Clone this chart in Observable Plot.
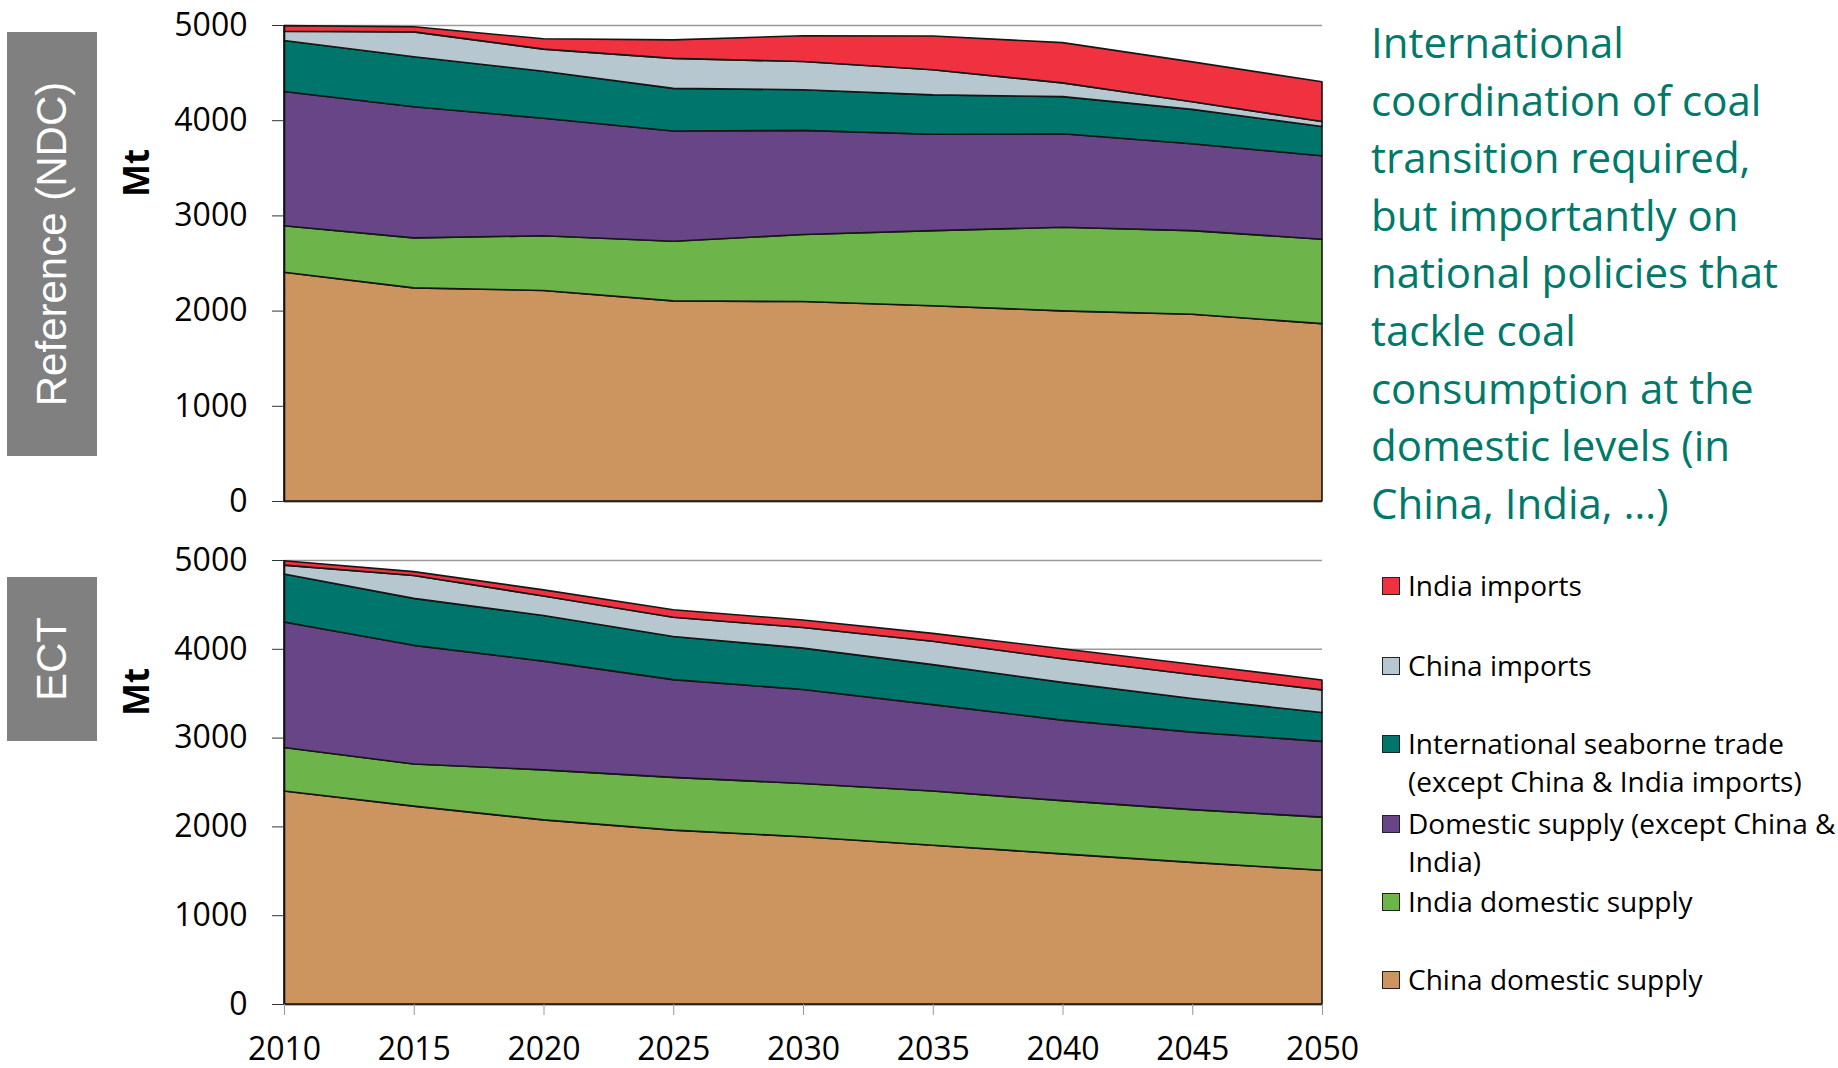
<!DOCTYPE html>
<html>
<head>
<meta charset="utf-8">
<script src="https://cdn.jsdelivr.net/npm/d3@7"></script>
<script src="https://cdn.jsdelivr.net/npm/@observablehq/plot@0.6"></script>
<style>
  html, body { margin: 0; padding: 0; background: #fff; }
  #root { position: relative; width: 1838px; height: 1068px; overflow: hidden; font-family: "Open Sans", sans-serif; }
  .panel { position: absolute; left: 0; }
  .sidebox { position: absolute; left: 7px; width: 90px; background: #808080; }
  .sidebox span { position: absolute; left: 50%; top: 50%; transform: translate(-50%, -50%) rotate(-90deg); white-space: nowrap; color: #fff; font-family: "Liberation Sans", Arial, sans-serif; font-size: 42px; }
  .mt { position: absolute; transform: translate(-50%, -50%) rotate(-90deg); font-weight: bold; font-size: 35px; font-family: "Open Sans", sans-serif; color: #000; }
  #note { position: absolute; left: 1371px; top: 13px; font-size: 42px; line-height: 57.6px; color: #00796b; font-family: "Open Sans", sans-serif; white-space: nowrap; }
  .leg { position: absolute; left: 1382px; font-size: 28px; line-height: 37.5px; color: #000; white-space: pre; font-family: "Open Sans", sans-serif; }
  .leg i { position: absolute; left: 0; top: 10px; width: 16px; height: 16px; border: 1.5px solid #222; }
  .leg b { font-weight: normal; position: absolute; left: 26px; top: 0; }
</style>
</head>
<body>
<div id="root"></div>
<script>
// ---------- data ----------
const years = [2010, 2015, 2020, 2025, 2030, 2035, 2040, 2045, 2050];
const seriesNames = [
  "China domestic supply",
  "India domestic supply",
  "Domestic supply (except China & India)",
  "International seaborne trade (except China & India imports)",
  "China imports",
  "India imports"
];
const seriesColors = ["#cc955f", "#6db54b", "#684587", "#00756b", "#b7c7cf", "#f0313f"];
const yTicks = [0, 1000, 2000, 3000, 4000, 5000];

// Reference (NDC) scenario, Mt
const refChinaDomestic = [2402, 2239, 2211, 2102, 2095, 2051, 1997, 1961, 1863];
const refIndiaDomestic = [489, 525, 575, 626, 705, 789, 879, 879, 887];
const refOtherDomestic = [1411, 1378, 1234, 1158, 1093, 1013, 981, 912, 876];
const refSeaborne = [535, 525, 495, 448, 427, 413, 391, 362, 307];
const refChinaImports = [98, 261, 232, 315, 296, 264, 144, 79, 54];
const refIndiaImports = [58, 54, 108, 195, 271, 354, 423, 420, 416];

// ECT scenario, Mt
const ectChinaDomestic = [2398, 2228, 2073, 1958, 1884, 1788, 1691, 1595, 1506];
const ectIndiaDomestic = [490, 475, 564, 594, 599, 610, 599, 594, 598];
const ectOtherDomestic = [1413, 1336, 1224, 1101, 1058, 973, 907, 873, 854];
const ectSeaborne = [541, 529, 514, 486, 467, 451, 425, 378, 324];
const ectChinaImports = [100, 258, 220, 216, 231, 263, 266, 270, 255];
const ectIndiaImports = [50, 43, 69, 85, 85, 89, 112, 116, 112];

const scenarioLabels = ["Reference (NDC)", "ECT"];
const axisTitle = "Mt";
const noteLines = [
  "International",
  "coordination of coal",
  "transition required,",
  "but importantly on",
  "national policies that",
  "tackle coal",
  "consumption at the",
  "domestic levels (in",
  "China, India, …)"
];
const legendOrder = [5, 4, 3, 2, 1, 0];
const legendText = [
  "China domestic supply",
  "India domestic supply",
  "Domestic supply (except China &\nIndia)",
  "International seaborne trade\n(except China & India imports)",
  "China imports",
  "India imports"
];

// ---------- drawing ----------
const rootEl = document.getElementById("root");

function rowsOf(values) {
  const rows = [];
  seriesNames.forEach((s, i) => years.forEach((y, j) => rows.push({year: y, series: s, value: values[i][j]})));
  return rows;
}

function chart(values, height, marginBottom, showX) {
  const rows = rowsOf(values);
  return Plot.plot({
    width: 1340, height,
    marginLeft: 284, marginRight: 18, marginTop: 25, marginBottom,
    style: {fontFamily: "'Open Sans', sans-serif", fontSize: "32px", color: "#000", background: "transparent", overflow: "visible"},
    x: {domain: [2010, 2050], axis: null},
    y: {domain: [0, 5000], axis: null},
    color: {domain: seriesNames, range: seriesColors},
    marks: [
      Plot.gridY(yTicks, {stroke: "#9a9a9a", strokeOpacity: 1, strokeWidth: 1.5}),
      Plot.areaY(rows, {x: "year", y: "value", z: "series", fill: "series", order: seriesNames,
        stroke: "#161616", strokeWidth: 1.6, strokeLinejoin: "round", fillOpacity: 1}),
      Plot.ruleX([2010], {y1: 0, y2: 5000, stroke: "#111", strokeWidth: 1.6}),
      Plot.ruleY([0], {stroke: "#222", strokeWidth: 1.6}),
      Plot.axisY(yTicks, {tickSize: 12, tickPadding: 25, tickFormat: d => String(d), stroke: "#333", fontSize: 32, label: null}),
      showX ? Plot.axisX(years, {tickSize: 11, tickPadding: 22, tickFormat: d => String(d), stroke: "#999", fontSize: 32, label: null}) : null
    ]
  });
}

const refValues = [refChinaDomestic, refIndiaDomestic, refOtherDomestic, refSeaborne, refChinaImports, refIndiaImports];
const ectValues = [ectChinaDomestic, ectIndiaDomestic, ectOtherDomestic, ectSeaborne, ectChinaImports, ectIndiaImports];

const topPanel = document.createElement("div");
topPanel.className = "panel"; topPanel.style.top = "0px";
topPanel.appendChild(chart(refValues, 511, 10, false));
rootEl.appendChild(topPanel);

const botPanel = document.createElement("div");
botPanel.className = "panel"; botPanel.style.top = "535px";
botPanel.appendChild(chart(ectValues, 529, 60, true));
rootEl.appendChild(botPanel);

// side boxes
[[32, 424], [577, 164]].forEach(([t, h], i) => {
  const b = document.createElement("div");
  b.className = "sidebox"; b.style.top = t + "px"; b.style.height = h + "px";
  const s = document.createElement("span"); s.textContent = scenarioLabels[i];
  b.appendChild(s); rootEl.appendChild(b);
});

// Mt titles
[173, 692].forEach(y => {
  const m = document.createElement("div");
  m.className = "mt"; m.style.left = "135px"; m.style.top = y + "px";
  m.textContent = axisTitle; rootEl.appendChild(m);
});

// note
const note = document.createElement("div");
note.id = "note";
note.innerHTML = noteLines.map(l => l.replace(/&/g, "&amp;")).join("<br>");
rootEl.appendChild(note);

// legend
const legendTops = [567, 647, 725, 805, 883, 961];
legendOrder.forEach((si, k) => {
  const d = document.createElement("div");
  d.className = "leg"; d.style.top = legendTops[k] + "px";
  const sw = document.createElement("i"); sw.style.background = seriesColors[si];
  const tx = document.createElement("b"); tx.textContent = legendText[si];
  d.appendChild(sw); d.appendChild(tx); rootEl.appendChild(d);
});
</script>
</body>
</html>
